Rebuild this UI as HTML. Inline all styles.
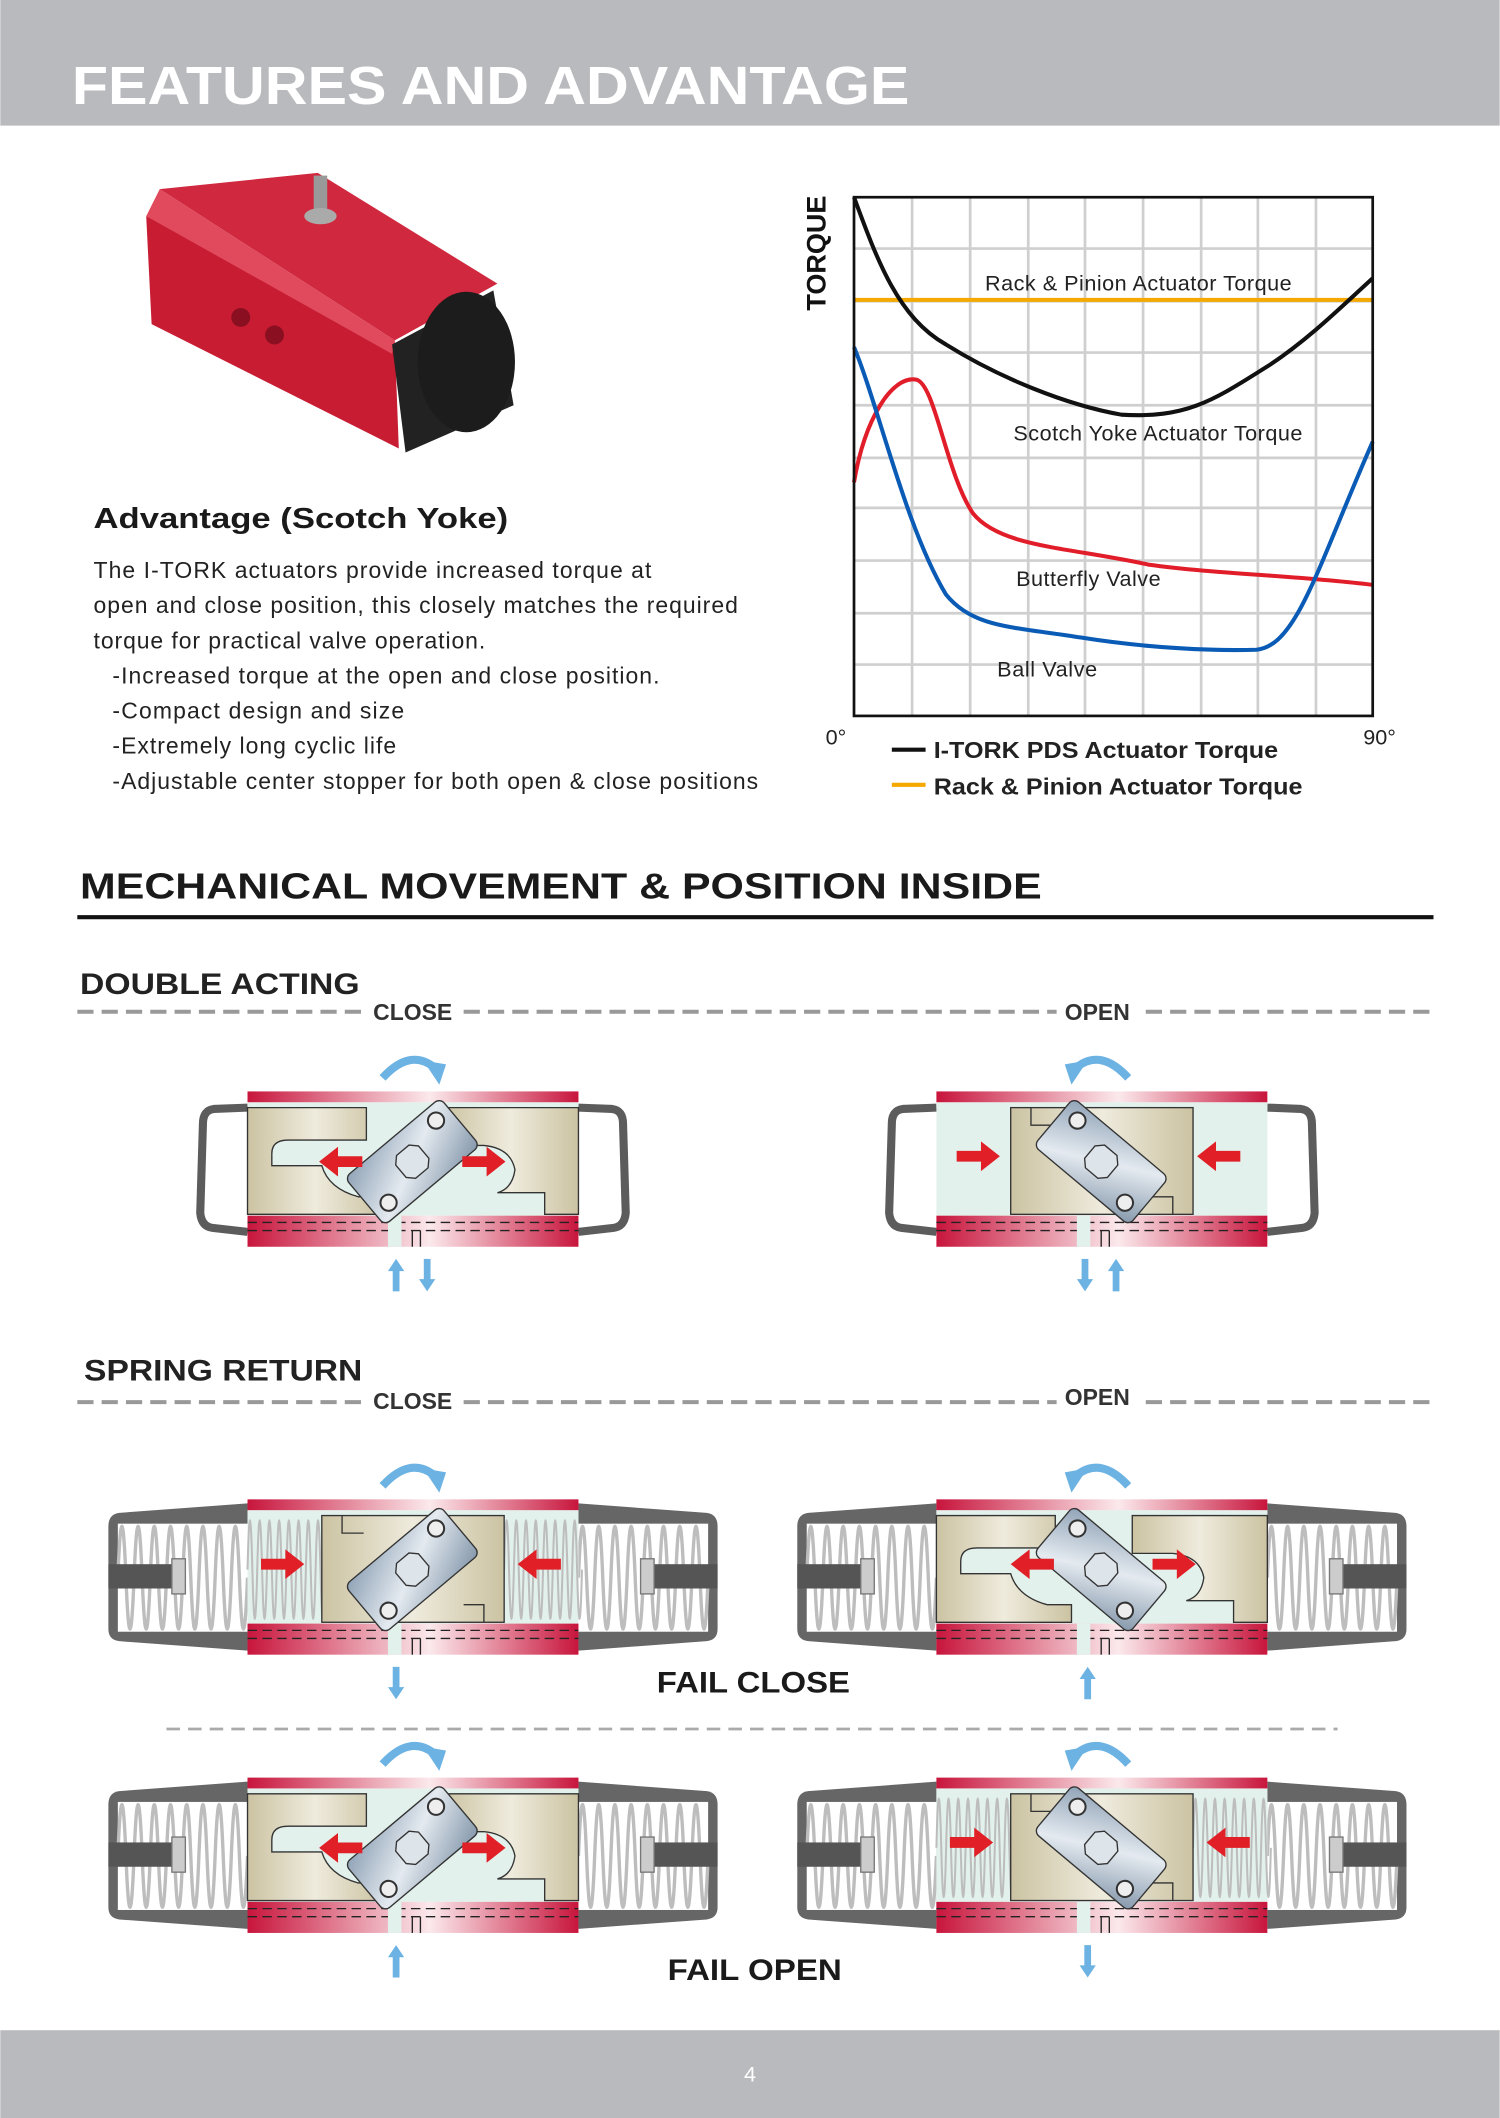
<!DOCTYPE html>
<html><head><meta charset="utf-8"><style>
html,body{margin:0;padding:0;background:#fff;}
svg{display:block;}
text{font-family:"Liberation Sans",Arial,sans-serif;}
</style></head><body>
<svg width="1500" height="2118" viewBox="0 0 1110 1568" xmlns="http://www.w3.org/2000/svg">
<defs>
<linearGradient id="rg" x1="0" x2="1" y1="0" y2="0">
<stop offset="0" stop-color="#c8153c"/><stop offset="0.55" stop-color="#fbe9ec"/><stop offset="1" stop-color="#c8153c"/></linearGradient>
<linearGradient id="tan" x1="0" x2="1"><stop offset="0" stop-color="#cbc3a2"/><stop offset="0.5" stop-color="#efebdd"/><stop offset="1" stop-color="#cbc3a2"/></linearGradient>
<linearGradient id="yk" x1="0" x2="1" y1="0" y2="1"><stop offset="0" stop-color="#8fa2b6"/><stop offset="0.5" stop-color="#e4eaf0"/><stop offset="1" stop-color="#8497ab"/></linearGradient>
<g id="coreBg"><rect x="0" y="8" width="245" height="84" fill="#e2f1eb"/></g>
<g id="bars">
<rect x="0" y="0" width="245" height="8" fill="url(#rg)"/>
<rect x="0" y="92" width="245" height="23" fill="url(#rg)"/>
<line x1="0" y1="97" x2="245" y2="97" stroke="#222" stroke-dasharray="7 4"/>
<line x1="0" y1="103" x2="245" y2="103" stroke="#222" stroke-dasharray="7 4"/>
<rect x="104" y="92" width="10" height="23" fill="#e2f1eb"/>
<line x1="122" y1="103" x2="122" y2="115" stroke="#222"/><line x1="128" y1="103" x2="128" y2="115" stroke="#222"/>
</g>
<g id="core"><use href="#coreBg"/><use href="#bars"/></g>
<g id="pEnds" stroke="#333" stroke-width="1">
<path d="M0,12 H88 V36 H30 Q18,36 18,46 V55 H55 Q60,72 82,78 H100 V91 H0 Z" fill="url(#tan)"/>
<path d="M245,12 H145 V40 H175 Q195,42 198,58 Q196,72 185,75 H220 V91 H245 Z" fill="url(#tan)"/>
</g>
<g id="pCenter" stroke="#333" stroke-width="1">
<rect x="55" y="12" width="135" height="79" fill="url(#tan)"/>
<path d="M70,12 V25 H86" fill="none"/><path d="M175,91 V78 H160" fill="none"/>
</g>
<g id="yokeA"><g transform="translate(122,52) rotate(-40)">
<rect x="-46" y="-23" width="92" height="46" rx="5" fill="url(#yk)" stroke="#333"/>
<polygon points="-6,-11 6,-11 11,-6 11,6 6,11 -6,11 -11,6 -11,-6" fill="#dde4ea" stroke="#333"/>
<circle cx="33" cy="-12" r="6" fill="#eee" stroke="#333" stroke-width="1.5"/><circle cx="-33" cy="12" r="6" fill="#eee" stroke="#333" stroke-width="1.5"/>
</g></g>
<g id="yokeB"><g transform="translate(122,52) rotate(40)">
<rect x="-46" y="-23" width="92" height="46" rx="5" fill="url(#yk)" stroke="#333"/>
<polygon points="-6,-11 6,-11 11,-6 11,6 6,11 -6,11 -11,6 -11,-6" fill="#dde4ea" stroke="#333"/>
<circle cx="-33" cy="-12" r="6" fill="#eee" stroke="#333" stroke-width="1.5"/><circle cx="33" cy="12" r="6" fill="#eee" stroke="#333" stroke-width="1.5"/>
</g></g>
<polygon id="ra" points="0,-4 18,-4 18,-11 32,0 18,11 18,4 0,4" fill="#e01f26"/>
<g id="rotR"><path d="M-20,4 Q0,-18 18,-4" fill="none" stroke="#6cb2e2" stroke-width="6"/><polygon points="10,-9 27,-6 22,9" fill="#6cb2e2"/></g>
<g id="upA"><rect x="-2.5" y="8" width="5" height="16" fill="#6cb2e2"/><polygon points="-6,9 6,9 0,0" fill="#6cb2e2"/></g>
<g id="dnA"><rect x="-2.5" y="0" width="5" height="16" fill="#6cb2e2"/><polygon points="-6,15 6,15 0,24" fill="#6cb2e2"/></g>
<g id="caps" fill="none" stroke="#5c5c5c" stroke-width="6">
<path d="M0,12 L-25,13 Q-33,14 -33,24 L-35,90 Q-34,100 -26,101 L0,104"/>
<path d="M245,12 L270,13 Q278,14 278,24 L280,90 Q279,100 271,101 L245,104"/>
</g>
<path id="spr" d="M0,0 q3,-76 6,0 q3,76 6,0 q3,-76 6,0 q3,76 6,0 q3,-76 6,0 q3,76 6,0 q3,-76 6,0 q3,76 6,0 q3,-76 6,0 q3,76 6,0 q3,-76 6,0 q3,76 6,0 q3,-76 6,0 q3,76 6,0 q3,-76 6,0 q3,76 6,0" fill="none" stroke="#bdbdbd" stroke-width="2.5"/>
<g id="housing">
<path d="M0,3 L-95,10 Q-103,11 -103,20 L-103,96 Q-103,104 -95,105 L0,112 Z" fill="#666"/>
<rect x="-96" y="18" width="96" height="80" fill="#fff"/>
<use href="#spr" transform="translate(-96,58)"/>
<rect x="-103" y="48" width="50" height="18" fill="#555"/>
<rect x="-56" y="44" width="10" height="26" fill="#ccc" stroke="#777"/>
<path d="M245,3 L340,10 Q348,11 348,20 L348,96 Q348,104 340,105 L245,112 Z" fill="#666"/>
<rect x="245" y="18" width="96" height="80" fill="#fff"/>
<use href="#spr" transform="translate(245,58)"/>
<rect x="298" y="48" width="50" height="18" fill="#555"/>
<rect x="291" y="44" width="10" height="26" fill="#ccc" stroke="#777"/>
</g>
</defs>

<!-- header -->
<rect x="0" y="0" width="1110" height="93" fill="#b9babd"/>
<text x="53" y="77" font-size="40" font-weight="bold" fill="#fff" textLength="620" lengthAdjust="spacingAndGlyphs">FEATURES AND ADVANTAGE</text>

<!-- product -->
<polygon points="118,140 235,128 368,210 292,252" fill="#d0283e"/>
<polygon points="108,160 292,252 295,332 112,240" fill="#c81c33"/>
<polygon points="108,160 118,140 292,252 290,262" fill="#e04a5c"/>
<rect x="232" y="130" width="10" height="28" fill="#999"/>
<ellipse cx="237" cy="160" rx="12" ry="6" fill="#aaa"/>
<polygon points="290,255 365,215 380,300 300,335" fill="#222"/>
<ellipse cx="345" cy="268" rx="36" ry="52" fill="#1c1c1c"/>
<circle cx="178" cy="235" r="7" fill="#8a0f20"/><circle cx="203" cy="248" r="7" fill="#8a0f20"/>

<text x="69" y="391" font-size="21" font-weight="bold" fill="#1a1a1a" textLength="307" lengthAdjust="spacingAndGlyphs">Advantage (Scotch Yoke)</text>
<g font-size="17" fill="#222" lengthAdjust="spacingAndGlyphs">
<text x="69" y="428" textLength="413">The I-TORK actuators provide increased torque at</text>
<text x="69" y="454" textLength="477">open and close position, this closely matches the required</text>
<text x="69" y="480" textLength="290">torque for practical valve operation.</text>
<text x="83" y="506" textLength="405">-Increased torque at the open and close position.</text>
<text x="83" y="532" textLength="216">-Compact design and size</text>
<text x="83" y="558" textLength="210">-Extremely long cyclic life</text>
<text x="83" y="584" textLength="478">-Adjustable center stopper for both open &amp; close positions</text>
</g>

<!-- chart -->
<g stroke="#cfcfcf" stroke-width="2">
<line x1="675" y1="146" x2="675" y2="530"/><line x1="718" y1="146" x2="718" y2="530"/><line x1="761" y1="146" x2="761" y2="530"/><line x1="803" y1="146" x2="803" y2="530"/><line x1="846" y1="146" x2="846" y2="530"/><line x1="889" y1="146" x2="889" y2="530"/><line x1="931" y1="146" x2="931" y2="530"/><line x1="974" y1="146" x2="974" y2="530"/>
<line x1="632" y1="184" x2="1016" y2="184"/><line x1="632" y1="223" x2="1016" y2="223"/><line x1="632" y1="261" x2="1016" y2="261"/><line x1="632" y1="300" x2="1016" y2="300"/><line x1="632" y1="339" x2="1016" y2="339"/><line x1="632" y1="376" x2="1016" y2="376"/><line x1="632" y1="415" x2="1016" y2="415"/><line x1="632" y1="454" x2="1016" y2="454"/><line x1="632" y1="492" x2="1016" y2="492"/>
</g>
<line x1="632" y1="222" x2="1016" y2="222" stroke="#f5a800" stroke-width="3"/>
<path d="M632,146 C650,195 665,235 700,255 C740,280 790,300 830,307 C880,310 900,295 940,270 C970,250 995,225 1016,206" fill="none" stroke="#111" stroke-width="3"/>
<path d="M632,357 C640,310 660,278 678,281 C692,284 700,350 720,380 C740,405 790,405 850,418 C900,425 960,426 1016,433" fill="none" stroke="#e11d2a" stroke-width="3"/>
<path d="M632,257 C650,300 670,390 700,440 C720,465 750,464 800,472 C850,480 900,482 930,481 C960,478 975,420 1016,327" fill="none" stroke="#0a5bb5" stroke-width="3"/>
<rect x="632" y="146" width="384" height="384" fill="none" stroke="#111" stroke-width="2"/>
<g font-size="16" fill="#222" lengthAdjust="spacingAndGlyphs">
<text x="729" y="215" textLength="227">Rack &amp; Pinion Actuator Torque</text>
<text x="750" y="326" textLength="214">Scotch Yoke Actuator Torque</text>
<text x="752" y="434" textLength="107">Butterfly Valve</text>
<text x="738" y="501" textLength="74">Ball Valve</text>
<text x="611" y="551">0°</text><text x="1009" y="551">90°</text>
</g>
<text transform="translate(611,230) rotate(-90)" font-size="20" font-weight="bold" fill="#111">TORQUE</text>
<line x1="660" y1="555" x2="685" y2="555" stroke="#111" stroke-width="3"/>
<text x="691" y="561" font-size="17" font-weight="bold" fill="#222" textLength="255" lengthAdjust="spacingAndGlyphs">I-TORK PDS Actuator Torque</text>
<line x1="660" y1="581" x2="685" y2="581" stroke="#f5a800" stroke-width="3"/>
<text x="691" y="588" font-size="17" font-weight="bold" fill="#222" textLength="273" lengthAdjust="spacingAndGlyphs">Rack &amp; Pinion Actuator Torque</text>

<!-- section -->
<text x="59" y="665" font-size="27" font-weight="bold" fill="#1a1a1a" textLength="712" lengthAdjust="spacingAndGlyphs">MECHANICAL MOVEMENT &amp; POSITION INSIDE</text>
<line x1="57" y1="679" x2="1061" y2="679" stroke="#111" stroke-width="3"/>

<text x="59" y="736" font-size="22" font-weight="bold" fill="#222" textLength="207" lengthAdjust="spacingAndGlyphs">DOUBLE ACTING</text>
<g stroke="#999" stroke-width="3" stroke-dasharray="12 6">
<line x1="57" y1="749" x2="270" y2="749"/><line x1="343" y1="749" x2="782" y2="749"/><line x1="848" y1="749" x2="1061" y2="749"/>
<line x1="57" y1="1038" x2="270" y2="1038"/><line x1="343" y1="1038" x2="782" y2="1038"/><line x1="848" y1="1038" x2="1061" y2="1038"/>
</g>
<g font-size="17" font-weight="bold" fill="#333">
<text x="276" y="755">CLOSE</text><text x="788" y="755">OPEN</text>
<text x="276" y="1043">CLOSE</text><text x="788" y="1040">OPEN</text>
</g>
<text x="62" y="1022" font-size="22" font-weight="bold" fill="#222" textLength="206" lengthAdjust="spacingAndGlyphs">SPRING RETURN</text>

<!-- DA close -->
<g transform="translate(183,808)">
<use href="#caps"/><use href="#core"/><use href="#pEnds"/><use href="#yokeA"/>
<use href="#ra" transform="translate(85,52) scale(-1,1)"/><use href="#ra" transform="translate(159,52)"/>
<use href="#rotR" transform="translate(120,-14)"/>
<use href="#upA" transform="translate(110,124)"/><use href="#dnA" transform="translate(133,124)"/>
</g>
<!-- DA open -->
<g transform="translate(693,808)">
<use href="#caps"/><use href="#core"/><use href="#pCenter"/><use href="#yokeB"/>
<use href="#ra" transform="translate(15,48)"/><use href="#ra" transform="translate(225,48) scale(-1,1)"/>
<use href="#rotR" transform="translate(122,-14) scale(-1,1)"/>
<use href="#dnA" transform="translate(110,124)"/><use href="#upA" transform="translate(133,124)"/>
</g>

<!-- SR row2 left -->
<g transform="translate(183,1110)">
<use href="#housing"/><use href="#coreBg"/>
<use href="#spr" transform="translate(0,52) scale(0.6,0.95)"/><use href="#spr" transform="translate(190,52) scale(0.6,0.95)"/>
<use href="#bars"/>
<use href="#pCenter"/><use href="#yokeA"/>
<use href="#ra" transform="translate(10,48)"/><use href="#ra" transform="translate(232,48) scale(-1,1)"/>
<use href="#rotR" transform="translate(120,-14)"/>
<use href="#dnA" transform="translate(110,124)"/>
</g>
<!-- SR row2 right -->
<g transform="translate(693,1110)">
<use href="#housing"/><use href="#core"/><use href="#pEnds"/><use href="#yokeB"/>
<use href="#ra" transform="translate(87,48) scale(-1,1)"/><use href="#ra" transform="translate(160,48)"/>
<use href="#rotR" transform="translate(122,-14) scale(-1,1)"/>
<use href="#upA" transform="translate(112,124)"/>
</g>
<text x="486" y="1253" font-size="22" font-weight="bold" fill="#1a1a1a" textLength="143" lengthAdjust="spacingAndGlyphs">FAIL CLOSE</text>
<line x1="123" y1="1280" x2="990" y2="1280" stroke="#aaa" stroke-width="2" stroke-dasharray="10 6"/>

<!-- SR row3 left -->
<g transform="translate(183,1316)">
<use href="#housing"/><use href="#core"/><use href="#pEnds"/><use href="#yokeA"/>
<use href="#ra" transform="translate(85,52) scale(-1,1)"/><use href="#ra" transform="translate(159,52)"/>
<use href="#rotR" transform="translate(120,-14)"/>
<use href="#upA" transform="translate(110,124)"/>
</g>
<!-- SR row3 right -->
<g transform="translate(693,1316)">
<use href="#housing"/><use href="#coreBg"/>
<use href="#spr" transform="translate(0,52) scale(0.6,0.95)"/><use href="#spr" transform="translate(190,52) scale(0.6,0.95)"/>
<use href="#bars"/>
<use href="#pCenter"/><use href="#yokeB"/>
<use href="#ra" transform="translate(10,48)"/><use href="#ra" transform="translate(232,48) scale(-1,1)"/>
<use href="#rotR" transform="translate(122,-14) scale(-1,1)"/>
<use href="#dnA" transform="translate(112,124)"/>
</g>
<text x="494" y="1466" font-size="22" font-weight="bold" fill="#1a1a1a" textLength="129" lengthAdjust="spacingAndGlyphs">FAIL OPEN</text>

<!-- footer -->
<rect x="0" y="1503" width="1110" height="65" fill="#b9babd"/>
<text x="555" y="1541" font-size="16" fill="#fff" text-anchor="middle">4</text>
</svg>
</body></html>
